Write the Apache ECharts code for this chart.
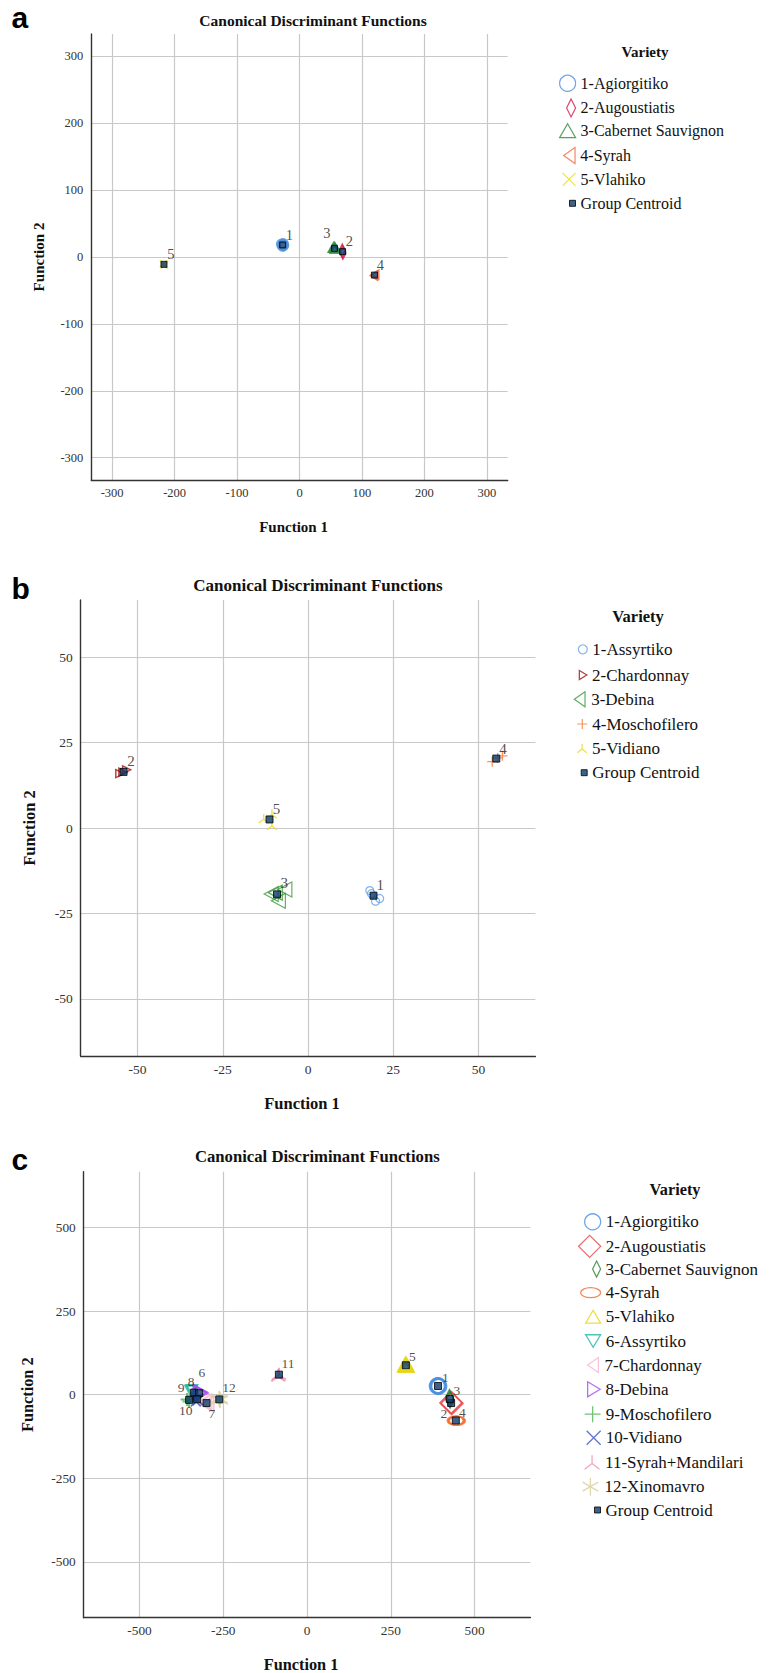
<!DOCTYPE html>
<html><head><meta charset="utf-8">
<script src="https://cdn.jsdelivr.net/npm/echarts@6/dist/echarts.min.js"></script>
<style>
html,body{margin:0;padding:0;background:#fff;}
.p{position:absolute;left:0;width:774px;}
</style>
</head><body>
<div id="ca" class="p" style="top:0;height:560px"></div>
<div id="cb" class="p" style="top:560px;height:560px"></div>
<div id="cc" class="p" style="top:1120px;height:553px"></div>
<script>
// ---------------- DATA ----------------
// Panel a
const aVarieties = ['1-Agiorgitiko','2-Augoustiatis','3-Cabernet Sauvignon','4-Syrah','5-Vlahiko'];
const aCentroidF1 = [-27, 69, 56, 120, -217];
const aCentroidF2 = [18, 8, 13, -27, -11];
const aCasesF1 = [[-28.5,-25.5,-27,-26],[68.5,69.5,69],[54.5,57.5,56],[119,121.5,120],[-218,-216,-217]];
const aCasesF2 = [[19,17.5,16.5,19.5],[10.5,5.5,8],[14,12.5,14.5],[-28,-26.5,-27],[-10,-12,-11]];
const aTicks = [-300,-200,-100,0,100,200,300];

// Panel b
const bVarieties = ['1-Assyrtiko','2-Chardonnay','3-Debina','4-Moschofilero','5-Vidiano'];
const bCentroidF1 = [19.2, -54.1, -9.1, 55.2, -11.3];
const bCentroidF2 = [-19.8, 16.4, -19.4, 20.3, 2.5];
const bCasesF1 = [[18.1,18.6,19.8,21.0],[-55.2,-54.3,-53.2],[-10.8,-8.7,-6.8,-9.6],[54.0,55.6,57.0],[-13.0,-10.6,-10.6]];
const bCasesF2 = [[-18.3,-19.2,-21.4,-20.6],[15.9,16.3,17.0],[-19.3,-21.3,-18.0,-18.9],[19.4,20.5,21.1],[2.8,4.2,0.8]];
const bTicks = [-50,-25,0,25,50];

// Panel c
const cVarieties = ['1-Agiorgitiko','2-Augoustiatis','3-Cabernet Sauvignon','4-Syrah','5-Vlahiko','6-Assyrtiko','7-Chardonnay','8-Debina','9-Moschofilero','10-Vidiano','11-Syrah+Mandilari','12-Xinomavro'];
const cCentroidF1 = [391, 430, 426, 444, 295, -337, -300, -322, -352, -328, -84, -262];
const cCentroidF2 = [26, -25, -13, -77, 88, 6.5, -25, 4.5, -15.5, -13.5, 60, -14];
const cCasesF1 = [[391,393,389],[430,432],[425,427,426],[444,447],[295,297,293],[-347,-344],[-305,-298],[-320,-316],[-358,-352],[-332,-326],[-84,-86],[-262,-260]];
const cCasesF2 = [[27,25,26],[-24,-26],[-8,-16,-12],[-77,-78],[90,87,88],[12,14],[-22,-28],[8,5],[-14,-20],[-20,-16],[63,58],[-12,-16]];
const cTicks = [-500,-250,0,250,500];

// ---------------- STYLE ----------------
const SERIF = "'Liberation Serif','Times New Roman',serif";
const SANS = "'Liberation Sans',Arial,sans-serif";
const SYM = {
  triLeft:'path://M10,0L0,7L10,14Z',
  triRight:'path://M0,0L10,6L0,12Z',
  triDown:'path://M0,0L12,0L6,10Z',
  cross:'path://M0,0L10,10M10,0L0,10',
  plus:'path://M5,0L5,10M0,5L10,5',
  tristar:'path://M5,0L5,5L0.5,8.5M5,5L9.5,8.5',
  asterisk:'path://M5,0L5,10M0.7,2.5L9.3,7.5M0.7,7.5L9.3,2.5',
  ellipse:'path://M0,5A10,5 0 1 1 20,5A10,5 0 1 1 0,5Z'
};
const CENT = {fill:'#0b3b6b', border:'#000'};

const layoutA = {
  height:560, letter:'a', letterTop:2.6,
  title:{x:313, y:20, fs:15.5},
  grid:{left:91.3, top:34, width:416.4, height:446},
  range:333.33, tickFont:12.5, nameFont:15, xNameGap:39.5, yNameGap:45,
  labelFont:14.5, centSize:6,
  labelOffsets:[[6.7,-10.4],[6.7,-10.6],[-7.6,-15.6],[6,-9.6],[7,-10.7]],
  legend:{titleX:645, titleY:51.7, titleFs:15, textX:580, fs:16, rows:[82.7,107.3,130.7,155,179.3,203.3]},
  styles:[
    {sym:'circle', size:9, color:'#4f8fdc', bw:2.6, icon:'circle', lw:16, lh:16, lbw:1.2},
    {sym:'diamond', size:[6,12], color:'#d3194b', bw:1.5, icon:'diamond', lw:9, lh:18, lbw:1.2},
    {sym:'triangle', size:[10,9], color:'#2e8b3a', bw:2, icon:'triangle', lw:16, lh:14, lbw:1.2},
    {sym:SYM.triLeft, size:[7,9], color:'#f26a3d', bw:1.5, icon:SYM.triLeft, lw:12, lh:16, lbw:1.2},
    {sym:SYM.cross, size:7, color:'#e6dc1e', bw:1.5, icon:SYM.cross, lw:13, lh:13, lbw:1.2}
  ]
};
const layoutB = {
  height:560, letter:'b', letterTop:13.9,
  title:{x:318, y:25, fs:17},
  grid:{left:80.7, top:40, width:454.7, height:456},
  range:66.667, tickFont:13.5, nameFont:16.5, xNameGap:39, yNameGap:42.7,
  labelFont:15, centSize:7,
  labelOffsets:[[6.7,-10.3],[7.4,-10.7],[7.3,-11.3],[6.7,-10],[7,-10]],
  legend:{titleX:638, titleY:56.7, titleFs:16.5, textX:591.7, fs:17, rows:[89.3,115,139.3,164,188.3,212.7]},
  styles:[
    {sym:'circle', size:8, color:'#5fa0e8', bw:1.2, icon:'circle', lw:9, lh:9, lbw:1.2},
    {sym:SYM.triRight, size:[8,8], color:'#a31515', bw:1.5, icon:SYM.triRight, lw:8, lh:9, lbw:1.3},
    {sym:SYM.triLeft, size:[14,15], color:'#3a9a3a', bw:1.2, icon:SYM.triLeft, lw:13, lh:15, lbw:1.2},
    {sym:SYM.plus, size:10, color:'#f27a3a', bw:1.3, icon:SYM.plus, lw:10, lh:10, lbw:1.2},
    {sym:SYM.tristar, size:[10,9], color:'#e8d81a', bw:1.3, icon:SYM.tristar, lw:10, lh:9, lbw:1.2}
  ]
};
const layoutC = {
  height:553, letter:'c', letterTop:24.6,
  title:{x:317.3, y:36.7, fs:16.7},
  grid:{left:83.7, top:51.7, width:446.7, height:446},
  range:666.67, tickFont:13.3, nameFont:16.3, xNameGap:39, yNameGap:48,
  labelFont:13.5, centSize:7,
  labelOffsets:[[7.3,-9],[-7.3,10],[7.2,-8.3],[6.5,-8.3],[6.6,-8.3],[7.7,-19.6],[5.4,10.3],[-8,-12],[-8,-12],[-11.3,11],[9,-11.6],[9.7,-11.6]],
  legend:{titleX:675, titleY:70, titleFs:16.3, textX:605, fs:17, rows:[101.7,125.7,149,172.7,196.7,221,245,269.3,294,317.7,342.3,366,390]},
  styles:[
    {sym:'circle', size:15, color:'#4a8fe0', bw:2.4, icon:'circle', lw:16, lh:16, lbw:1.3},
    {sym:'diamond', size:22, color:'#e8484a', bw:1.8, icon:'diamond', lw:22, lh:22, lbw:1.3},
    {sym:'diamond', size:[8,16], color:'#2f7d32', bw:1.5, icon:'diamond', lw:8, lh:16, lbw:1.2},
    {sym:SYM.ellipse, size:[16,9], color:'#f06a2a', bw:2, icon:SYM.ellipse, lw:20, lh:10, lbw:1.3},
    {sym:'triangle', size:[13,12], color:'#e6d618', bw:3, icon:'triangle', lw:15, lh:13, lbw:1.3},
    {sym:SYM.triDown, size:[11,10], color:'#1fb5a2', bw:2, icon:SYM.triDown, lw:15, lh:12.5, lbw:1.3},
    {sym:SYM.triLeft, size:[13,15], color:'#f7b6d2', bw:2, icon:SYM.triLeft, lw:13, lh:15, lbw:1.3},
    {sym:SYM.triRight, size:[13,14], color:'#a24cf0', bw:2, icon:SYM.triRight, lw:13, lh:15, lbw:1.3},
    {sym:SYM.plus, size:13, color:'#4db34d', bw:2, icon:SYM.plus, lw:16, lh:16, lbw:1.3},
    {sym:SYM.cross, size:10, color:'#3a54c0', bw:1.8, icon:SYM.cross, lw:14, lh:14, lbw:1.3},
    {sym:SYM.tristar, size:[14,12], color:'#f38cb0', bw:2, icon:SYM.tristar, lw:16, lh:14, lbw:1.3},
    {sym:SYM.asterisk, size:16, color:'#d9cf98', bw:1.8, icon:SYM.asterisk, lw:18, lh:18, lbw:1.3}
  ]
};

function makeAxis(L, ticks, isX){
  return {
    type:'value', min:-L.range, max:L.range,
    name: isX ? 'Function 1' : 'Function 2',
    nameLocation:'middle', nameGap: isX ? L.xNameGap : L.yNameGap,
    nameTextStyle:{fontFamily:SERIF, fontWeight:'bold', fontSize:L.nameFont, color:'#111',
      padding: isX ? [0,12,0,0] : 0},
    axisLine:{show:true, onZero:false, lineStyle:{color:'#333', width:1.4}},
    axisTick:{show:false, customValues:ticks},
    axisLabel:{show:true, customValues:ticks, margin: isX ? 6 : 8,
      fontFamily:SERIF, fontSize:L.tickFont, color:'#333'},
    splitLine:{show:true, lineStyle:{color:'#c8c8c8', width:1.2}}
  };
}

function build(elId, names, cF1, cF2, kF1, kF2, ticks, L){
  const chart = echarts.init(document.getElementById(elId), null, {renderer:'svg'});
  const series = names.map((nm, i) => {
    const st = L.styles[i];
    return {
      type:'scatter', name:nm, silent:true, z:2,
      data: kF1[i].map((x, j) => [x, kF2[i][j]]),
      symbol: st.sym, symbolSize: st.size,
      itemStyle:{color:'rgba(0,0,0,0)', borderColor:st.color, borderWidth:st.bw},
      emphasis:{disabled:true}
    };
  });
  series.push({
    type:'scatter', name:'Group Centroid', silent:true, z:5,
    data: cF1.map((x, i) => ({value:[x, cF2[i]], label:{offset:L.labelOffsets[i]}})),
    symbol:'rect', symbolSize:L.centSize,
    itemStyle:{color:CENT.fill, borderColor:CENT.border, borderWidth:1},
    label:{show:true, position:'inside', formatter:(p) => String(p.dataIndex + 1),
      fontFamily:SERIF, fontSize:L.labelFont, color:'#222'},
    emphasis:{disabled:true}
  });
  const legendNames = names.concat(['Group Centroid']);
  const legends = legendNames.map((nm, i) => {
    const isCent = i === names.length;
    const st = isCent ? {icon:'rect', lw:6, lh:6} : L.styles[i];
    const itemStyle = isCent
      ? {color:CENT.fill, borderColor:CENT.border, borderWidth:1}
      : {color:'rgba(0,0,0,0)', borderColor:st.color, borderWidth:st.lbw};
    const boxH = Math.max(st.lh, L.legend.fs);
    return {
      show:true, selectedMode:false, orient:'horizontal', padding:0,
      left: L.legend.textX - 5 - st.lw, top: L.legend.rows[i] - boxH / 2,
      itemWidth: st.lw, itemHeight: st.lh,
      textStyle:{fontFamily:SERIF, fontSize:L.legend.fs, color:'#111'},
      data:[{name:nm, icon:st.icon, itemStyle:itemStyle}]
    };
  });
  chart.setOption({
    animation:false,
    backgroundColor:'#fff',
    title:[
      {text:L.letter, left:11.5, top:L.letterTop, padding:0,
        textStyle:{fontFamily:SANS, fontWeight:'bold', fontSize:30, color:'#000'}},
      {text:'Canonical Discriminant Functions', left:L.title.x, top:L.title.y - L.title.fs / 2,
        textAlign:'center', padding:0,
        textStyle:{fontFamily:SERIF, fontWeight:'bold', fontSize:L.title.fs, color:'#111'}},
      {text:'Variety', left:L.legend.titleX, top:L.legend.titleY - L.legend.titleFs / 2,
        textAlign:'center', padding:0,
        textStyle:{fontFamily:SERIF, fontWeight:'bold', fontSize:L.legend.titleFs, color:'#111'}}
    ],
    grid:{left:L.grid.left, top:L.grid.top, width:L.grid.width, height:L.grid.height,
      containLabel:false, outerBoundsMode:'none'},
    xAxis: makeAxis(L, ticks, true),
    yAxis: makeAxis(L, ticks, false),
    legend: legends,
    series: series
  });
}

build('ca', aVarieties, aCentroidF1, aCentroidF2, aCasesF1, aCasesF2, aTicks, layoutA);
build('cb', bVarieties, bCentroidF1, bCentroidF2, bCasesF1, bCasesF2, bTicks, layoutB);
build('cc', cVarieties, cCentroidF1, cCentroidF2, cCasesF1, cCasesF2, cTicks, layoutC);
</script>
</body></html>
